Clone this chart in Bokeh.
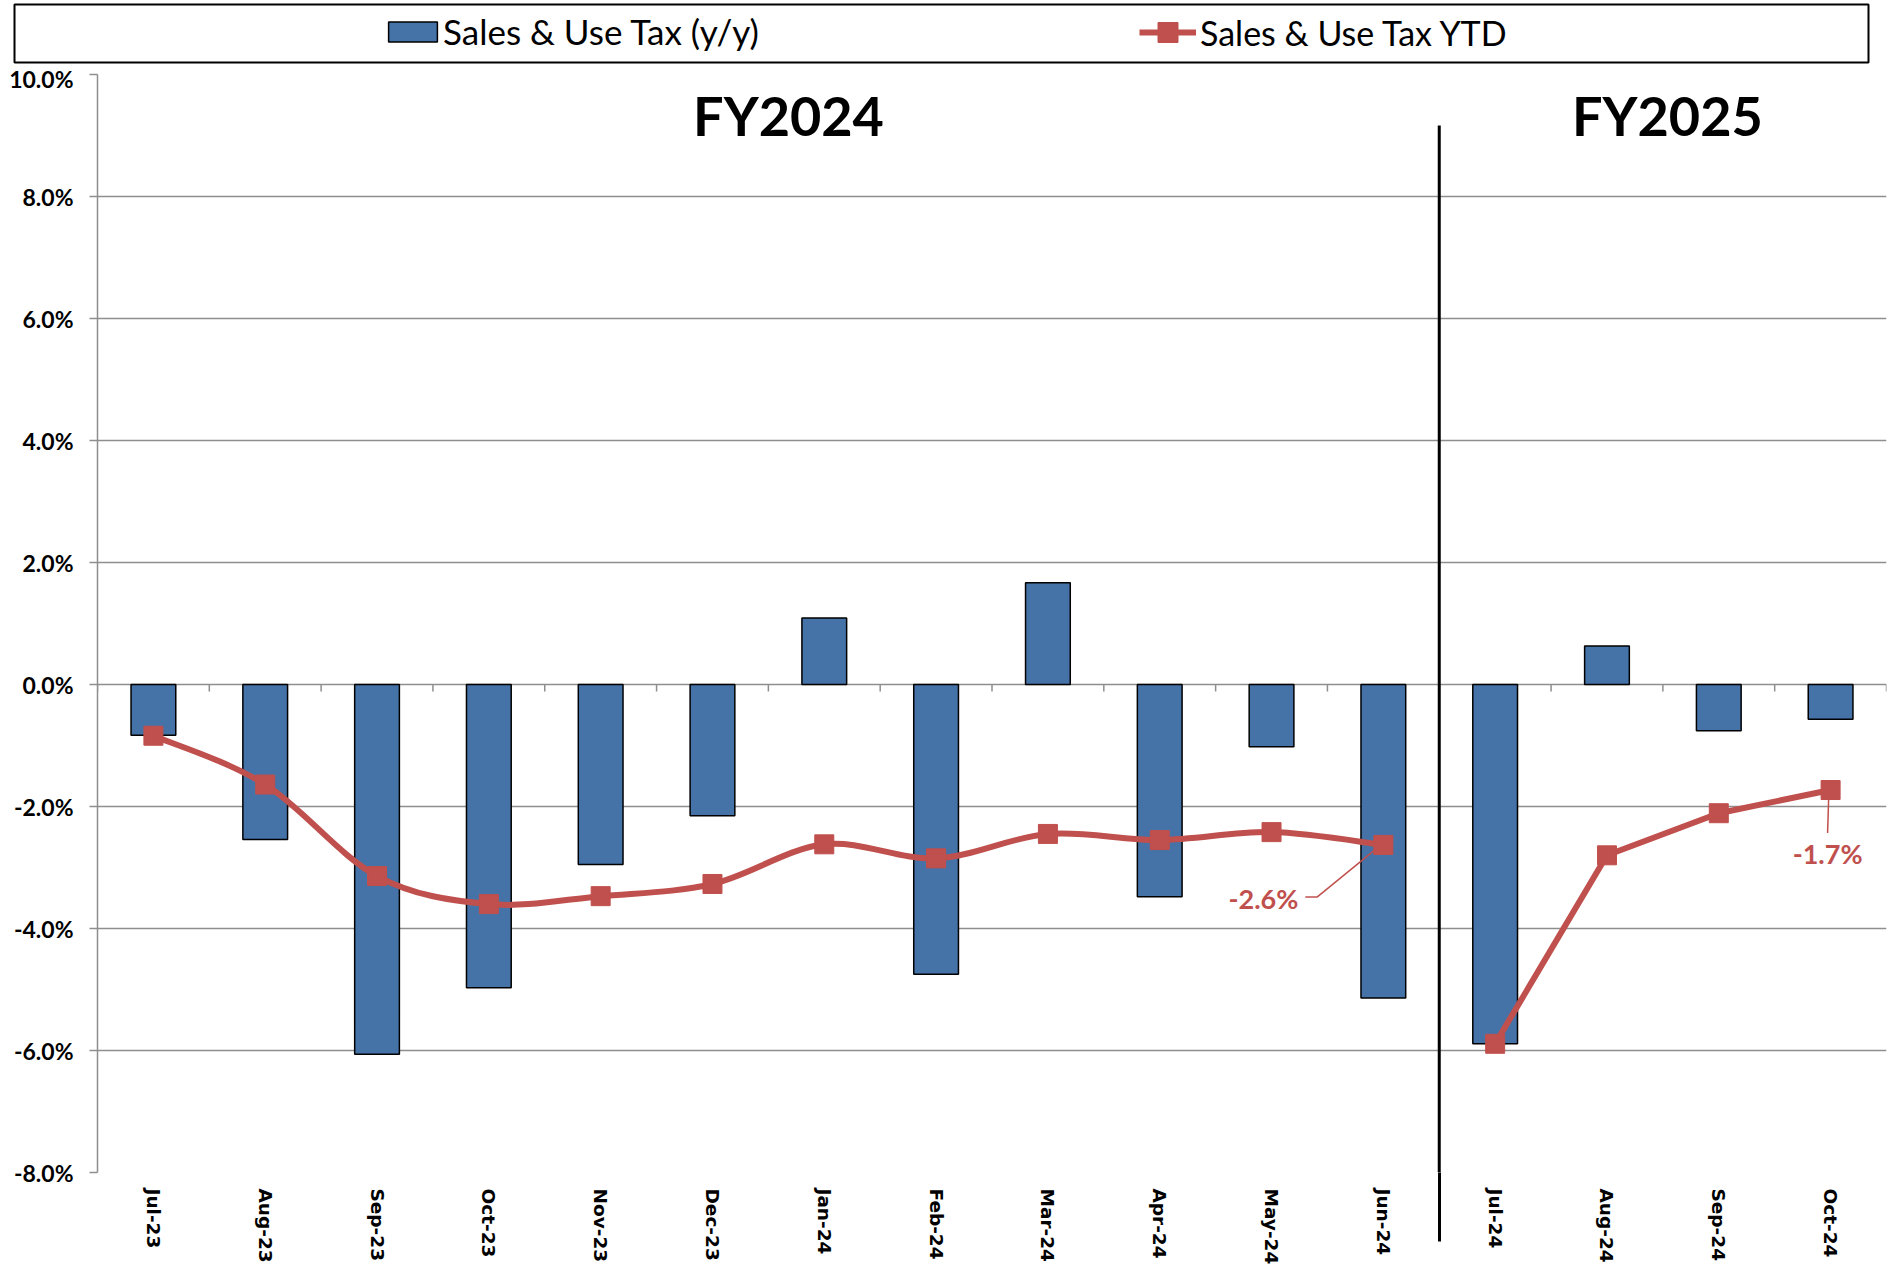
import math
import numpy as np
from bokeh.plotting import figure
from bokeh.models import (Range1d, FixedTicker, PrintfTickFormatter, CustomJSTickFormatter,
                          Legend, LegendItem, Label, ColumnDataSource)
from bokeh.core.properties import value
from bokeh.embed import file_html
from bokeh.resources import INLINE

# ---------------- data ----------------
months = ["Jul-23", "Aug-23", "Sep-23", "Oct-23", "Nov-23", "Dec-23", "Jan-24", "Feb-24",
          "Mar-24", "Apr-24", "May-24", "Jun-24", "Jul-24", "Aug-24", "Sep-24", "Oct-24"]
fiscal_year = ["FY2024"] * 12 + ["FY2025"] * 4
sales_use_yoy = [-0.83, -2.54, -6.06, -4.97, -2.95, -2.15, 1.09, -4.75,
                 1.67, -3.48, -1.02, -5.14, -5.89, 0.63, -0.76, -0.57]
sales_use_ytd = [-0.84, -1.64, -3.14, -3.60, -3.47, -3.27, -2.62, -2.85,
                 -2.45, -2.55, -2.42, -2.63, -5.89, -2.80, -2.11, -1.73]
y_ticks = [-8, -6, -4, -2, 0, 2, 4, 6, 8, 10]

BAR = "#4572A7"
RED = "#C0504D"
GRID = "#8E8E8E"

# ---------------- geometry ----------------
W = 1900
LH = 64                                  # legend strip height
H = 1267 - LH
ML, MR, MT, MB = 97, 14, 10, 95
FW = W - ML - MR
FH = H - MT - MB
n = len(months)
ppx = FW / n
ppy = FH / 18.0
Y0, Y1 = -8, 10
TOP = LH + MT                            # page y of frame top

def py2y(py):
    return Y1 - (py - TOP) / ppy

xc = [i + 0.5 for i in range(n)]
split = fiscal_year.count("FY2024")

# ---------------- legend strip ----------------
BL, BR, BT, BB = 14, 1868, 4, 62
pl = figure(width=W, height=LH, x_range=Range1d(0, 1), y_range=Range1d(0, 1),
            output_backend="svg", toolbar_location=None,
            min_border_left=BL, min_border_right=W - BR, min_border_top=BT,
            min_border_bottom=LH - BB)
pl.axis.visible = False
pl.grid.visible = False
pl.outline_line_color = "black"
pl.outline_line_width = 2
pl.border_fill_color = "white"
lb = pl.vbar(x=[5], top=[5], bottom=4, width=0.4, fill_color=BAR, line_color="black",
             line_width=1.5)
ll = pl.line(x=[5, 6], y=[5, 5], line_color=RED, line_width=6)
ls = pl.scatter(x=[5], y=[5], marker="square", size=19, fill_color=RED, line_color=RED)

legA = Legend(items=[LegendItem(label="Sales & Use Tax (y/y)", renderers=[lb])],
              location=(382 - BL, 10), glyph_width=61, glyph_height=25, label_standoff=0,
              padding=0, margin=0, border_line_color=None, background_fill_alpha=0,
              label_text_font="Lato", label_text_font_size="35px", label_text_color="black")
legB = Legend(items=[LegendItem(label="Sales & Use Tax YTD", renderers=[ll, ls])],
              location=(1139 - BL, 5), glyph_width=57, glyph_height=50, label_standoff=4,
              padding=0, margin=0, border_line_color=None, background_fill_alpha=0,
              label_text_font="Lato", label_text_font_size="34px", label_text_color="black")
pl.add_layout(legA, "center")
pl.add_layout(legB, "center")

# ---------------- main chart ----------------
p = figure(width=W, height=H, x_range=Range1d(0, n), y_range=Range1d(Y0, Y1),
           output_backend="svg", toolbar_location=None,
           min_border_left=ML, min_border_right=MR, min_border_top=MT, min_border_bottom=MB)
p.outline_line_color = None
p.background_fill_color = "white"
p.border_fill_color = "white"
p.xgrid.visible = False
p.ygrid.ticker = FixedTicker(ticks=y_ticks)
p.ygrid.grid_line_color = GRID
p.ygrid.grid_line_width = 1.5

p.yaxis.ticker = FixedTicker(ticks=y_ticks)
p.yaxis.formatter = PrintfTickFormatter(format="%.1f%%")
p.yaxis.axis_line_color = GRID
p.yaxis.axis_line_width = 1.5
p.yaxis.major_tick_line_color = GRID
p.yaxis.major_tick_line_width = 1.5
p.yaxis.major_tick_out = 8
p.yaxis.major_tick_in = 0
p.yaxis.minor_tick_line_color = None
p.yaxis.major_label_standoff = 16
p.yaxis.major_label_text_font = "Lato"
p.yaxis.major_label_text_font_style = "bold"
p.yaxis.major_label_text_font_size = "23px"
p.yaxis.major_label_text_color = "black"

p.xaxis.ticker = FixedTicker(ticks=xc, minor_ticks=[split])
p.xaxis.formatter = CustomJSTickFormatter(args=dict(labels=months),
                                          code="return labels[Math.round(tick - 0.5)]")
p.xaxis.axis_line_color = None
p.xaxis.major_tick_line_color = None
p.xaxis.minor_tick_line_color = "black"
p.xaxis.minor_tick_line_width = 3
p.xaxis.minor_tick_out = 69
p.xaxis.minor_tick_in = 0
p.xaxis.major_label_orientation = -math.pi / 2
p.xaxis.major_label_standoff = 16 - 69
p.xaxis.major_label_text_font = "DejaVu Sans"
p.xaxis.major_label_text_font_style = "bold"
p.xaxis.major_label_text_font_size = "18.5px"
p.xaxis.major_label_text_color = "black"

# bars
src = ColumnDataSource(dict(x=xc, top=sales_use_yoy, month=months))
p.vbar(x="x", top="top", bottom=0, width=0.4, source=src,
       fill_color=BAR, line_color="black", line_width=1.5)

# small category tick marks on the zero line
bounds = list(range(n + 1))
p.segment(x0=bounds, y0=[0] * len(bounds), x1=bounds, y1=[-7 / ppy] * len(bounds),
          line_color=GRID, line_width=1.5)

# FY2024 smoothed YTD line (bezier through the points)
fx = np.array(xc[:split])
fy = np.array(sales_use_ytd[:split])
m = len(fx)
x0s, y0s, x1s, y1s, cx0, cy0, cx1, cy1 = [], [], [], [], [], [], [], []
for i in range(m - 1):
    a = max(i - 1, 0)
    d = min(i + 2, m - 1)
    x0s.append(fx[i]); y0s.append(fy[i]); x1s.append(fx[i + 1]); y1s.append(fy[i + 1])
    cx0.append(fx[i] + (fx[i + 1] - fx[a]) / 6); cy0.append(fy[i] + (fy[i + 1] - fy[a]) / 6)
    cx1.append(fx[i + 1] - (fx[d] - fx[i]) / 6); cy1.append(fy[i + 1] - (fy[d] - fy[i]) / 6)
p.bezier(x0=x0s, y0=y0s, x1=x1s, y1=y1s, cx0=cx0, cy0=cy0, cx1=cx1, cy1=cy1,
         line_color=RED, line_width=6)

# FY2025 straight YTD line
p.line(x=xc[split:], y=sales_use_ytd[split:], line_color=RED, line_width=6)
p.scatter(x=xc, y=sales_use_ytd, marker="square", size=19, fill_color=RED, line_color=RED)

# fiscal-year divider
p.segment(x0=[split], y0=[Y0], x1=[split], y1=[py2y(125)], line_color="black", line_width=3)

# fiscal-year headings
for txt, xx in (("FY2024", 6.18), ("FY2025", 14.04)):
    p.add_layout(Label(x=xx, y=9.33, text=txt, text_align="center", text_baseline="middle",
                       text_font="Lato", text_font_style="bold", text_font_size="54px",
                       text_color="black"))

# data labels with leader lines
def leader(ix, pts):
    xs = [xc[ix] + dx / ppx for dx, dy in pts]
    ys = [sales_use_ytd[ix] - dy / ppy for dx, dy in pts]
    p.line(x=xs, y=ys, line_color=RED, line_width=1.5)

jun = split - 1
leader(jun, [(-78, 52), (-66, 52), (-6, 3)])
p.text(x=[xc[jun]], y=[sales_use_ytd[jun]], text=[f"{sales_use_ytd[jun]:.1f}%"],
       x_offset=-85, y_offset=54, text_align="right", text_baseline="middle",
       text_font=value("Lato"), text_font_style="bold", text_font_size="27px", text_color=RED)
last = n - 1
leader(last, [(-2, 10), (-3, 43)])
p.text(x=[xc[last]], y=[sales_use_ytd[last]], text=[f"{sales_use_ytd[last]:.1f}%"],
       x_offset=-3, y_offset=63, text_align="center", text_baseline="middle",
       text_font=value("Lato"), text_font_style="bold", text_font_size="27px", text_color=RED)

open("out.html", "w").write(file_html([pl, p], INLINE))
